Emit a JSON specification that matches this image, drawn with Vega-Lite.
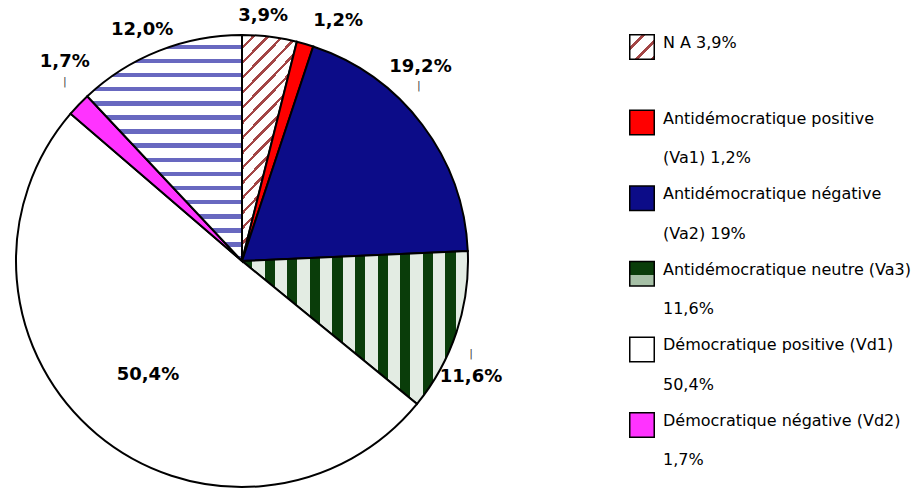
{
  "$schema": "https://vega.github.io/schema/vega-lite/v6.json",
  "background": "white",
  "padding": {"left": 5, "top": 5, "right": 5, "bottom": 0},
  "bounds": "flush",
  "spacing": 115,
  "config": {"view": {"stroke": null}, "font": "DejaVu Sans"},
  "datasets": {
    "slices": [
      {"cat": "NA", "pct": 3.9, "label": "3,9%", "order": 1, "line1": "N A 3,9%", "line2": ""},
      {"cat": "Va1", "pct": 1.2, "label": "1,2%", "order": 2, "line1": "Antidémocratique positive", "line2": "(Va1) 1,2%"},
      {"cat": "Va2", "pct": 19.2, "label": "19,2%", "order": 3, "line1": "Antidémocratique négative", "line2": "(Va2) 19%"},
      {"cat": "Va3", "pct": 11.6, "label": "11,6%", "order": 4, "line1": "Antidémocratique neutre (Va3)", "line2": "11,6%"},
      {"cat": "Vd1", "pct": 50.4, "label": "50,4%", "order": 5, "line1": "Démocratique positive (Vd1)", "line2": "50,4%"},
      {"cat": "Vd2", "pct": 1.7, "label": "1,7%", "order": 6, "line1": "Démocratique négative (Vd2)", "line2": "1,7%"},
      {"cat": "Autre", "pct": 12.0, "label": "12,0%", "order": 7, "line1": "", "line2": ""}
    ]
  },
  "hconcat": [
    {
      "width": 510,
      "height": 483,
      "data": {"name": "slices"},
      "encoding": {
        "theta": {"field": "pct", "type": "quantitative", "stack": true},
        "order": {"field": "order", "type": "quantitative", "sort": "ascending"}
      },
      "layer": [
        {
          "mark": {"type": "arc", "outerRadius": 226, "stroke": "#000000", "strokeWidth": 2, "xOffset": -18, "yOffset": 14.5},
          "encoding": {
            "fill": {
              "condition": [
                {"test": "datum.cat === 'NA'", "value": {"gradient": "linear", "x1": 0, "y1": 0, "x2": 0.25, "y2": 1, "stops": [
                  {"offset": 0, "color": "#ffffff"}, {"offset": 0.047, "color": "#ffffff"}, {"offset": 0.047, "color": "#a34545"}, {"offset": 0.0625, "color": "#a34545"},
                  {"offset": 0.0625, "color": "#ffffff"}, {"offset": 0.1095, "color": "#ffffff"}, {"offset": 0.1095, "color": "#a34545"}, {"offset": 0.125, "color": "#a34545"},
                  {"offset": 0.125, "color": "#ffffff"}, {"offset": 0.172, "color": "#ffffff"}, {"offset": 0.172, "color": "#a34545"}, {"offset": 0.1875, "color": "#a34545"},
                  {"offset": 0.1875, "color": "#ffffff"}, {"offset": 0.2345, "color": "#ffffff"}, {"offset": 0.2345, "color": "#a34545"}, {"offset": 0.25, "color": "#a34545"},
                  {"offset": 0.25, "color": "#ffffff"}, {"offset": 0.297, "color": "#ffffff"}, {"offset": 0.297, "color": "#a34545"}, {"offset": 0.3125, "color": "#a34545"},
                  {"offset": 0.3125, "color": "#ffffff"}, {"offset": 0.3595, "color": "#ffffff"}, {"offset": 0.3595, "color": "#a34545"}, {"offset": 0.375, "color": "#a34545"},
                  {"offset": 0.375, "color": "#ffffff"}, {"offset": 0.422, "color": "#ffffff"}, {"offset": 0.422, "color": "#a34545"}, {"offset": 0.4375, "color": "#a34545"},
                  {"offset": 0.4375, "color": "#ffffff"}, {"offset": 0.4845, "color": "#ffffff"}, {"offset": 0.4845, "color": "#a34545"}, {"offset": 0.5, "color": "#a34545"},
                  {"offset": 0.5, "color": "#ffffff"}, {"offset": 0.547, "color": "#ffffff"}, {"offset": 0.547, "color": "#a34545"}, {"offset": 0.5625, "color": "#a34545"},
                  {"offset": 0.5625, "color": "#ffffff"}, {"offset": 0.6095, "color": "#ffffff"}, {"offset": 0.6095, "color": "#a34545"}, {"offset": 0.625, "color": "#a34545"},
                  {"offset": 0.625, "color": "#ffffff"}, {"offset": 0.672, "color": "#ffffff"}, {"offset": 0.672, "color": "#a34545"}, {"offset": 0.6875, "color": "#a34545"},
                  {"offset": 0.6875, "color": "#ffffff"}, {"offset": 0.7345, "color": "#ffffff"}, {"offset": 0.7345, "color": "#a34545"}, {"offset": 0.75, "color": "#a34545"},
                  {"offset": 0.75, "color": "#ffffff"}, {"offset": 0.797, "color": "#ffffff"}, {"offset": 0.797, "color": "#a34545"}, {"offset": 0.8125, "color": "#a34545"},
                  {"offset": 0.8125, "color": "#ffffff"}, {"offset": 0.8595, "color": "#ffffff"}, {"offset": 0.8595, "color": "#a34545"}, {"offset": 0.875, "color": "#a34545"},
                  {"offset": 0.875, "color": "#ffffff"}, {"offset": 0.922, "color": "#ffffff"}, {"offset": 0.922, "color": "#a34545"}, {"offset": 0.9375, "color": "#a34545"},
                  {"offset": 0.9375, "color": "#ffffff"}, {"offset": 0.9845, "color": "#ffffff"}, {"offset": 0.9845, "color": "#a34545"}, {"offset": 1, "color": "#a34545"}
                ]}},
                {"test": "datum.cat === 'Va1'", "value": "#ff0000"},
                {"test": "datum.cat === 'Va2'", "value": "#0c0c88"},
                {"test": "datum.cat === 'Va3'", "value": {"gradient": "linear", "x1": 0, "y1": 0, "x2": 1, "y2": 0, "stops": [
                  {"offset": 0, "color": "#0a3d0a"}, {"offset": 0.045, "color": "#0a3d0a"}, {"offset": 0.045, "color": "#e3ece3"}, {"offset": 0.1, "color": "#e3ece3"},
                  {"offset": 0.1, "color": "#0a3d0a"}, {"offset": 0.145, "color": "#0a3d0a"}, {"offset": 0.145, "color": "#e3ece3"}, {"offset": 0.2, "color": "#e3ece3"},
                  {"offset": 0.2, "color": "#0a3d0a"}, {"offset": 0.245, "color": "#0a3d0a"}, {"offset": 0.245, "color": "#e3ece3"}, {"offset": 0.3, "color": "#e3ece3"},
                  {"offset": 0.3, "color": "#0a3d0a"}, {"offset": 0.345, "color": "#0a3d0a"}, {"offset": 0.345, "color": "#e3ece3"}, {"offset": 0.4, "color": "#e3ece3"},
                  {"offset": 0.4, "color": "#0a3d0a"}, {"offset": 0.445, "color": "#0a3d0a"}, {"offset": 0.445, "color": "#e3ece3"}, {"offset": 0.5, "color": "#e3ece3"},
                  {"offset": 0.5, "color": "#0a3d0a"}, {"offset": 0.545, "color": "#0a3d0a"}, {"offset": 0.545, "color": "#e3ece3"}, {"offset": 0.6, "color": "#e3ece3"},
                  {"offset": 0.6, "color": "#0a3d0a"}, {"offset": 0.645, "color": "#0a3d0a"}, {"offset": 0.645, "color": "#e3ece3"}, {"offset": 0.7, "color": "#e3ece3"},
                  {"offset": 0.7, "color": "#0a3d0a"}, {"offset": 0.745, "color": "#0a3d0a"}, {"offset": 0.745, "color": "#e3ece3"}, {"offset": 0.8, "color": "#e3ece3"},
                  {"offset": 0.8, "color": "#0a3d0a"}, {"offset": 0.845, "color": "#0a3d0a"}, {"offset": 0.845, "color": "#e3ece3"}, {"offset": 0.9, "color": "#e3ece3"},
                  {"offset": 0.9, "color": "#0a3d0a"}, {"offset": 0.945, "color": "#0a3d0a"}, {"offset": 0.945, "color": "#e3ece3"}, {"offset": 1, "color": "#e3ece3"}
                ]}},
                {"test": "datum.cat === 'Vd2'", "value": "#ff33ff"},
                {"test": "datum.cat === 'Autre'", "value": {"gradient": "linear", "x1": 0, "y1": 0, "x2": 0, "y2": 1, "stops": [
                  {"offset": 0, "color": "#ffffff"}, {"offset": 0.0425, "color": "#ffffff"}, {"offset": 0.0425, "color": "#6868c0"}, {"offset": 0.0625, "color": "#6868c0"},
                  {"offset": 0.0625, "color": "#ffffff"}, {"offset": 0.105, "color": "#ffffff"}, {"offset": 0.105, "color": "#6868c0"}, {"offset": 0.125, "color": "#6868c0"},
                  {"offset": 0.125, "color": "#ffffff"}, {"offset": 0.1675, "color": "#ffffff"}, {"offset": 0.1675, "color": "#6868c0"}, {"offset": 0.1875, "color": "#6868c0"},
                  {"offset": 0.1875, "color": "#ffffff"}, {"offset": 0.23, "color": "#ffffff"}, {"offset": 0.23, "color": "#6868c0"}, {"offset": 0.25, "color": "#6868c0"},
                  {"offset": 0.25, "color": "#ffffff"}, {"offset": 0.2925, "color": "#ffffff"}, {"offset": 0.2925, "color": "#6868c0"}, {"offset": 0.3125, "color": "#6868c0"},
                  {"offset": 0.3125, "color": "#ffffff"}, {"offset": 0.355, "color": "#ffffff"}, {"offset": 0.355, "color": "#6868c0"}, {"offset": 0.375, "color": "#6868c0"},
                  {"offset": 0.375, "color": "#ffffff"}, {"offset": 0.4175, "color": "#ffffff"}, {"offset": 0.4175, "color": "#6868c0"}, {"offset": 0.4375, "color": "#6868c0"},
                  {"offset": 0.4375, "color": "#ffffff"}, {"offset": 0.48, "color": "#ffffff"}, {"offset": 0.48, "color": "#6868c0"}, {"offset": 0.5, "color": "#6868c0"},
                  {"offset": 0.5, "color": "#ffffff"}, {"offset": 0.5425, "color": "#ffffff"}, {"offset": 0.5425, "color": "#6868c0"}, {"offset": 0.5625, "color": "#6868c0"},
                  {"offset": 0.5625, "color": "#ffffff"}, {"offset": 0.605, "color": "#ffffff"}, {"offset": 0.605, "color": "#6868c0"}, {"offset": 0.625, "color": "#6868c0"},
                  {"offset": 0.625, "color": "#ffffff"}, {"offset": 0.6675, "color": "#ffffff"}, {"offset": 0.6675, "color": "#6868c0"}, {"offset": 0.6875, "color": "#6868c0"},
                  {"offset": 0.6875, "color": "#ffffff"}, {"offset": 0.73, "color": "#ffffff"}, {"offset": 0.73, "color": "#6868c0"}, {"offset": 0.75, "color": "#6868c0"},
                  {"offset": 0.75, "color": "#ffffff"}, {"offset": 0.7925, "color": "#ffffff"}, {"offset": 0.7925, "color": "#6868c0"}, {"offset": 0.8125, "color": "#6868c0"},
                  {"offset": 0.8125, "color": "#ffffff"}, {"offset": 0.855, "color": "#ffffff"}, {"offset": 0.855, "color": "#6868c0"}, {"offset": 0.875, "color": "#6868c0"},
                  {"offset": 0.875, "color": "#ffffff"}, {"offset": 0.9175, "color": "#ffffff"}, {"offset": 0.9175, "color": "#6868c0"}, {"offset": 0.9375, "color": "#6868c0"},
                  {"offset": 0.9375, "color": "#ffffff"}, {"offset": 0.98, "color": "#ffffff"}, {"offset": 0.98, "color": "#6868c0"}, {"offset": 1, "color": "#6868c0"}
                ]}}
              ],
              "value": "#ffffff"
            }
          }
        },
        {
          "mark": {"type": "text", "clip": true, "radius": 255, "xOffset": -18, "yOffset": 14.5, "dx": -10, "dy": 8, "font": "DejaVu Sans", "fontSize": 18, "fontWeight": "bold", "fill": "#000000"},
          "encoding": {"text": {"condition": {"test": "datum.cat === 'NA'", "field": "label", "type": "nominal"}, "value": ""}}
        },
        {
          "mark": {"type": "text", "clip": true, "radius": 255, "xOffset": -18, "yOffset": 14.5, "dx": 25, "dy": 5, "font": "DejaVu Sans", "fontSize": 18, "fontWeight": "bold", "fill": "#000000"},
          "encoding": {"text": {"condition": {"test": "datum.cat === 'Va1'", "field": "label", "type": "nominal"}, "value": ""}}
        },
        {
          "mark": {"type": "text", "clip": true, "radius": 255, "xOffset": -18, "yOffset": 14.5, "dx": -25, "dy": -40, "font": "DejaVu Sans", "fontSize": 18, "fontWeight": "bold", "fill": "#000000"},
          "encoding": {"text": {"condition": {"test": "datum.cat === 'Va2'", "field": "label", "type": "nominal"}, "value": ""}}
        },
        {
          "mark": {"type": "text", "clip": true, "radius": 255, "xOffset": -18, "yOffset": 14.5, "dx": -13, "dy": 36, "font": "DejaVu Sans", "fontSize": 18, "fontWeight": "bold", "fill": "#000000"},
          "encoding": {"text": {"condition": {"test": "datum.cat === 'Va3'", "field": "label", "type": "nominal"}, "value": ""}}
        },
        {
          "mark": {"type": "text", "clip": true, "radius": 148, "xOffset": -18, "yOffset": 14.5, "dx": 1, "dy": 1, "font": "DejaVu Sans", "fontSize": 18, "fontWeight": "bold", "fill": "#000000"},
          "encoding": {"text": {"condition": {"test": "datum.cat === 'Vd1'", "field": "label", "type": "nominal"}, "value": ""}}
        },
        {
          "mark": {"type": "text", "clip": true, "radius": 255, "xOffset": -18, "yOffset": 14.5, "dx": 7, "dy": -23, "font": "DejaVu Sans", "fontSize": 18, "fontWeight": "bold", "fill": "#000000"},
          "encoding": {"text": {"condition": {"test": "datum.cat === 'Vd2'", "field": "label", "type": "nominal"}, "value": ""}}
        },
        {
          "mark": {"type": "text", "clip": true, "radius": 255, "xOffset": -18, "yOffset": 14.5, "dx": -6, "dy": 6, "font": "DejaVu Sans", "fontSize": 18, "fontWeight": "bold", "fill": "#000000"},
          "encoding": {"text": {"condition": {"test": "datum.cat === 'Autre'", "field": "label", "type": "nominal"}, "value": ""}}
        },
        {
          "mark": {"type": "text", "clip": true, "radius": 255, "xOffset": -18, "yOffset": 14.5, "dx": -26.5, "dy": -21, "font": "DejaVu Sans", "fontSize": 11, "fill": "#444444"},
          "encoding": {"text": {"condition": {"test": "datum.cat === 'Va2'", "value": "|"}, "value": ""}}
        },
        {
          "mark": {"type": "text", "clip": true, "radius": 255, "xOffset": -18, "yOffset": 14.5, "dx": -13, "dy": 13, "font": "DejaVu Sans", "fontSize": 11, "fill": "#444444"},
          "encoding": {"text": {"condition": {"test": "datum.cat === 'Va3'", "value": "|"}, "value": ""}}
        },
        {
          "mark": {"type": "text", "clip": true, "radius": 255, "xOffset": -18, "yOffset": 14.5, "dx": 7, "dy": -3, "font": "DejaVu Sans", "fontSize": 11, "fill": "#444444"},
          "encoding": {"text": {"condition": {"test": "datum.cat === 'Vd2'", "value": "|"}, "value": ""}}
        }
      ]
    },
    {
      "width": 24,
      "height": 462,
      "data": {"name": "slices"},
      "transform": [{"filter": "datum.cat !== 'Autre'"}],
      "encoding": {
        "y": {"field": "cat", "type": "nominal", "sort": ["NA", "Va1", "Va2", "Va3", "Vd1", "Vd2"], "scale": {"type": "point", "padding": 0.5556}, "axis": null}
      },
      "layer": [
        {
          "mark": {"type": "point", "shape": "square", "size": 600, "filled": true, "opacity": 1, "stroke": "#000000", "strokeWidth": 1.5},
          "encoding": {
            "fill": {
              "condition": [
                {"test": "datum.cat === 'NA'", "value": {"gradient": "linear", "x1": 0, "y1": 0, "x2": 1, "y2": 1, "stops": [
                  {"offset": 0, "color": "#ffffff"}, {"offset": 0.25, "color": "#ffffff"}, {"offset": 0.25, "color": "#a34545"}, {"offset": 0.333, "color": "#a34545"},
                  {"offset": 0.333, "color": "#ffffff"}, {"offset": 0.583, "color": "#ffffff"}, {"offset": 0.583, "color": "#a34545"}, {"offset": 0.667, "color": "#a34545"},
                  {"offset": 0.667, "color": "#ffffff"}, {"offset": 0.917, "color": "#ffffff"}, {"offset": 0.917, "color": "#a34545"}, {"offset": 1, "color": "#a34545"}
                ]}},
                {"test": "datum.cat === 'Va1'", "value": "#ff0000"},
                {"test": "datum.cat === 'Va2'", "value": "#0c0c88"},
                {"test": "datum.cat === 'Va3'", "value": {"gradient": "linear", "x1": 0, "y1": 0, "x2": 0, "y2": 1, "stops": [
                  {"offset": 0, "color": "#0a3d0a"}, {"offset": 0.55, "color": "#0a3d0a"}, {"offset": 0.55, "color": "#a6c0a6"}, {"offset": 1, "color": "#a6c0a6"}
                ]}},
                {"test": "datum.cat === 'Vd2'", "value": "#ff33ff"}
              ],
              "value": "#ffffff"
            }
          }
        },
        {
          "mark": {"type": "text", "align": "left", "baseline": "alphabetic", "dx": 21, "dy": 1, "font": "DejaVu Sans", "fontSize": 16, "fill": "#000000"},
          "encoding": {"text": {"field": "line1", "type": "nominal"}}
        },
        {
          "mark": {"type": "text", "align": "left", "baseline": "alphabetic", "dx": 21, "dy": 40.5, "font": "DejaVu Sans", "fontSize": 16, "fill": "#000000"},
          "encoding": {"text": {"field": "line2", "type": "nominal"}}
        }
      ]
    }
  ]
}
